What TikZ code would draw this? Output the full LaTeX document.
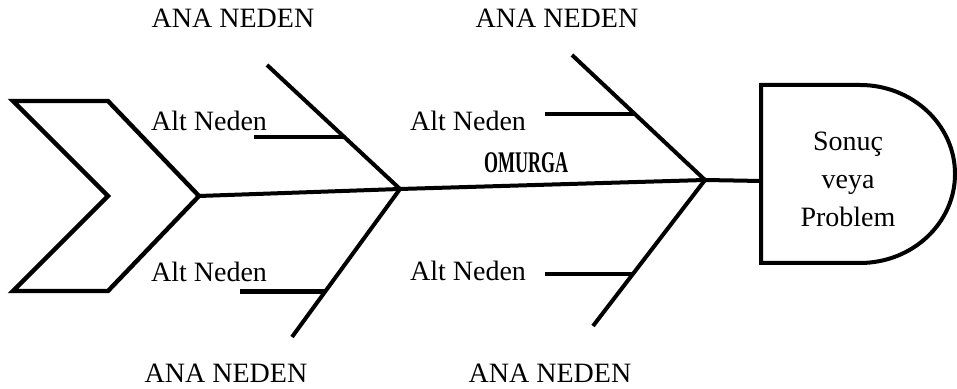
\documentclass[tikz,border=0pt]{standalone}
\usepackage{fontspec}
\setmainfont{Liberation Serif}
\usetikzlibrary{calc}

\begin{document}
\begin{tikzpicture}[x=0.5pt,y=0.5pt,
  bone/.style={draw,line width=2pt},
  sub/.style={draw,line width=2.4pt},
  lbl/.style={anchor=base,font=\fontsize{14}{19}\selectfont}]
\useasboundingbox (0,0) rectangle (957,389);
\begin{scope}
\coordinate (tail) at (199,193);
\coordinate (j1) at (400,200);
\coordinate (j2) at (705,209);
\coordinate (head) at (761,208);
\coordinate (t1) at (267,324);
\coordinate (b1) at (292,52);
\coordinate (t2) at (572,334);
\coordinate (b2) at (593,63);

\path[draw,line width=2.2pt] (13,288) -- (108,288) -- (tail) -- (108,98) -- (13,98) -- (108,193) -- cycle;
\path[draw,line width=2pt] (761,304) -- (860,304) arc[start angle=90,end angle=-90,x radius=95,y radius=89] -- (761,126) -- cycle;

\path[bone] (tail) -- (j1) -- (j2) -- (head);
\path[bone] (t1) -- (j1) -- (b1);
\path[bone] (t2) -- (j2) -- (b2);
\foreach \a/\b/\f/\l in {t1/j1/0.58/90, j1/b1/0.69/85, t2/j2/0.472/90, j2/b2/0.644/88}
  \path[sub] ($(\a)!\f!(\b)$) -- ++(-\l,0);
\end{scope}

\foreach \n/\x/\y in {a1/233/361, a2/557/361, a3/226/6, a4/550/6}
  \node[lbl] (\n) at (\x,\y) {ANA NEDEN};
\foreach \n/\x/\y in {s1/209/258, s2/209/107, s3/468/258, s4/468/108}
  \node[lbl] (\n) at (\x,\y) {Alt Neden};
\node[lbl,font=\fontsize{15}{18}\selectfont\bfseries] (spine) at (526,216) {\scalebox{0.6}[1]{OMURGA}};
\node[font=\fontsize{14}{19}\selectfont,align=center] (result) at (848,210) {Sonuç\\veya\\Problem};
\end{tikzpicture}
\end{document}
